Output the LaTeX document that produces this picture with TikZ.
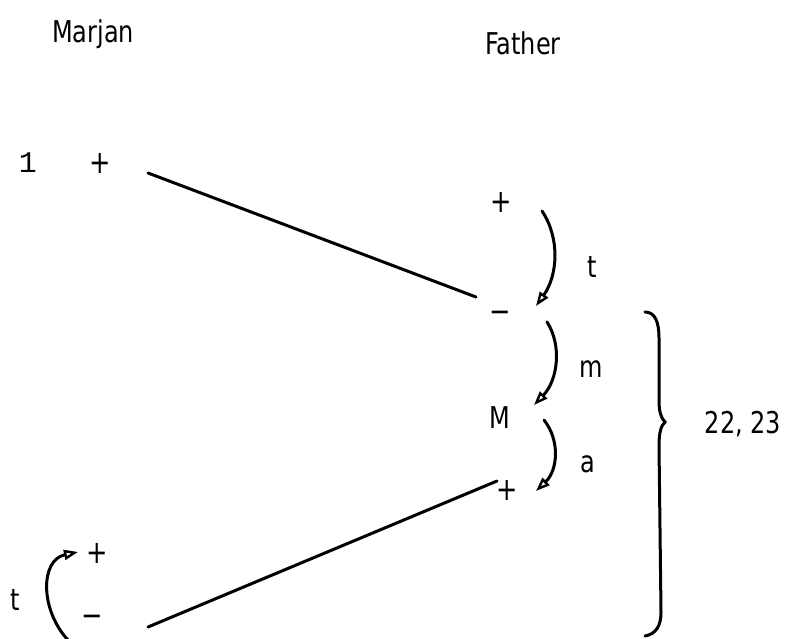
\documentclass[tikz,border=0pt]{standalone}
\usepackage{fontspec}
\setmainfont{DejaVu Sans}[FakeStretch=0.8]
\newfontfamily\monofnt{Liberation Mono}
\usetikzlibrary{arrows.meta}
\tikzset{
  lbl/.style={inner sep=0pt, anchor=base, font=\fontsize{30}{36}\selectfont},
  sgn/.style={inner sep=0pt, font=\fontsize{32}{36}\selectfont},
  ln/.style={line width=3pt, line cap=round},
  arr/.style={ln, -{Triangle[open, length=14pt, width=10pt, line width=2.4pt]}},
}
\begin{document}
\begin{tikzpicture}[x=1pt, y=-1pt]
\useasboundingbox (0,0) rectangle (792,639);
% headings
\node[lbl] (marjan) at (93,43) {Marjan};
\node[lbl] (father) at (523,55) {Father};
% left column
\node[lbl, font=\fontsize{30}{36}\monofnt] (one) at (28,173) {1};
\node[sgn] (lp) at (100,163) {+};
\node[sgn] (blp) at (97,553) {+};
\node[sgn] (blm) at (92,621) {−};
\node[lbl] (blt) at (15,610) {t};
% right column
\node[sgn] (rp1) at (501,202) {+};
\node[sgn] (rm) at (500,317) {−};
\node[lbl] (rM) at (500,428) {M};
\node[sgn] (rp2) at (507,490) {+};
\node[lbl] (lt) at (592,277) {t};
\node[lbl] (lm) at (591,377) {m};
\node[lbl] (la) at (588,472) {a};
\node[lbl] (num) at (743,433) {22, 23};
% connector end points
\coordinate (a1) at (148,173);
\coordinate (a2) at (476,297);
\coordinate (b1) at (148,627);
\coordinate (b2) at (497,481);
\coordinate (t1) at (542,211);
\coordinate (t2) at (536,306);
\coordinate (m1) at (547,322);
\coordinate (m2) at (534,405);
\coordinate (q1) at (544,420);
\coordinate (q2) at (536,491);
\coordinate (u1) at (68,640);
\coordinate (u2) at (78,552);
% lines
\draw[ln] (a1) -- (a2);
\draw[ln] (b1) -- (b2);
% curved arrows
\draw[arr] (t1) .. controls (560,238) and (558,275) .. (t2);
\draw[arr] (m1) .. controls (562,345) and (558,380) .. (m2);
\draw[arr] (q1) .. controls (560,440) and (558,470) .. (q2);
\draw[arr] (u1) .. controls (40,610) and (40,560) .. (u2);
% brace
\coordinate (br1) at (645,312);
\coordinate (br2) at (645,636);
\coordinate (brt) at (665,422);
\draw[ln] (br1) .. controls (655,312) and (659,322) .. (659,338)
  -- (659,400) .. controls (659,412) and (661,418) .. (brt)
  .. controls (661,426) and (659,432) .. (659,446)
  -- (661,612) .. controls (661,626) and (656,634) .. (br2);
\end{tikzpicture}
\end{document}
